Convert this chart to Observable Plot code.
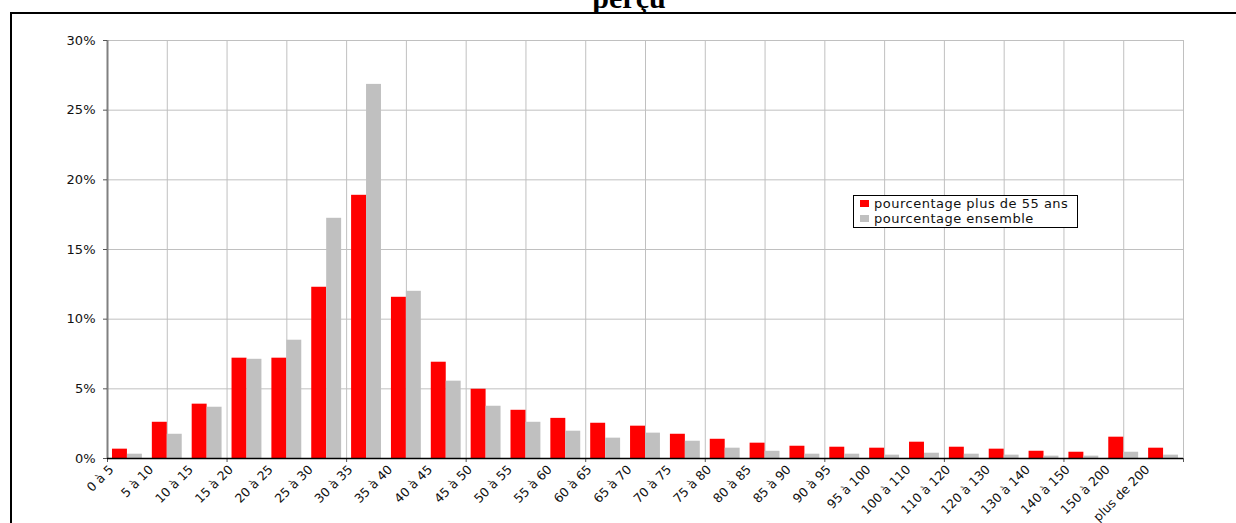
<!DOCTYPE html>
<html><head><meta charset="utf-8">
<script src="https://cdn.jsdelivr.net/npm/d3@7"></script>
<script src="https://cdn.jsdelivr.net/npm/@observablehq/plot@0.6"></script>
<style>
body{margin:0;background:#fff;}
#wrap{position:relative;width:1236px;height:523px;overflow:hidden;background:#fff;}
#chart{position:absolute;left:0;top:0;}
#frame{position:absolute;left:10px;top:12px;width:1240px;height:520px;border-left:2px solid #000;border-top:2px solid #000;pointer-events:none;}
#title{position:absolute;left:0;width:1258px;top:-19px;line-height:30px;text-align:center;font:bold 30px "Liberation Serif","Times New Roman",serif;color:#000;white-space:nowrap;}
#legend{position:absolute;left:853px;top:195px;}
</style>
</head><body>
<div id="wrap">
  <div id="title">perçu</div>
  <div id="frame"></div>
  <div id="chart"></div>
  <svg id="legend" width="226" height="34"></svg>
</div>
<script>
const categories = ["0 à 5","5 à 10","10 à 15","15 à 20","20 à 25","25 à 30","30 à 35","35 à 40","40 à 45","45 à 50","50 à 55","55 à 60","60 à 65","65 à 70","70 à 75","75 à 80","80 à 85","85 à 90","90 à 95","95 à 100","100 à 110","110 à 120","120 à 130","130 à 140","140 à 150","150 à 200","plus de 200"];
const plus55 = [0.67,2.60,3.90,7.20,7.20,12.29,18.89,11.57,6.91,4.97,3.46,2.88,2.53,2.32,1.74,1.38,1.10,0.88,0.81,0.74,1.17,0.81,0.67,0.52,0.45,1.53,0.74];
const ensemble = [0.31,1.74,3.68,7.12,8.49,17.24,26.85,12.00,5.55,3.75,2.60,1.96,1.46,1.82,1.24,0.74,0.52,0.31,0.31,0.24,0.38,0.31,0.24,0.17,0.17,0.45,0.24];
const seriesNames = ["pourcentage plus de 55 ans","pourcentage ensemble"];
const seriesColors = ["#ff0000","#c0c0c0"];
const yTicks = [0,5,10,15,20,25,30];

const n = categories.length;
const half = 0.375;
const rows = [];
categories.forEach((c,i) => {
  rows.push({cat:c, i, s:0, v:plus55[i]});
  rows.push({cat:c, i, s:1, v:ensemble[i]});
});

const chart = Plot.plot({
  width: 1236, height: 523,
  marginLeft: 107, marginRight: 53, marginTop: 40, marginBottom: 65,
  style: {fontFamily: "DejaVu Sans, sans-serif", fontSize: "13px", color: "#111", background: "transparent"},
  x: {type: "linear", domain: [0, n], axis: null},
  y: {domain: [0, 30], axis: null},
  marks: [
    Plot.ruleY(yTicks.slice(1), {stroke: "#c0c0c0", strokeWidth: 1}),
    Plot.ruleX(d3.range(1.5, n + 0.01, 1.5), {stroke: "#c0c0c0", strokeWidth: 1}),
    Plot.rect(rows, {
      x1: d => d.i + 0.5 + (d.s === 0 ? -half : 0),
      x2: d => d.i + 0.5 + (d.s === 0 ? 0 : half),
      y1: 0, y2: "v",
      fill: d => seriesColors[d.s]
    }),
    Plot.ruleX([0], {stroke: "#808080", strokeWidth: 2}),
    Plot.axisY(yTicks, {tickSize: 4, tickPadding: 8, tickFormat: d => d + "%", label: null, stroke: "#555", fontSize: 13, letterSpacing: 0.5}),
    Plot.axisX(d3.range(0, n + 1, 3), {tickSize: 4, tickFormat: () => "", label: null, stroke: "#555"}),
    Plot.axisX(categories.map((d, i) => i + 0.5), {
      tickSize: 0, tickPadding: 0, tickRotate: -45,
      tickFormat: d => categories[Math.floor(d)],
      label: null, fontSize: 12.5, dx: -16, dy: 9
    }),
    Plot.ruleY([0], {stroke: "#000", strokeWidth: 1.5})
  ]
});
document.getElementById("chart").appendChild(chart);

// legend (inside plot area, as in the reference)
const lg = d3.select("#legend");
lg.append("rect").attr("x", 0.5).attr("y", 0.5).attr("width", 224).attr("height", 32).attr("fill", "#fff").attr("stroke", "#000");
seriesNames.forEach((name, k) => {
  lg.append("rect").attr("x", 7).attr("y", 5 + k * 15).attr("width", 9).attr("height", 7).attr("fill", seriesColors[k]);
  lg.append("text").attr("x", 21).attr("y", 13 + k * 15)
    .attr("font-family", "DejaVu Sans, sans-serif").attr("font-size", 13).attr("letter-spacing", 0.5)
    .attr("fill", "#111").text(name);
});
</script>
</body></html>
